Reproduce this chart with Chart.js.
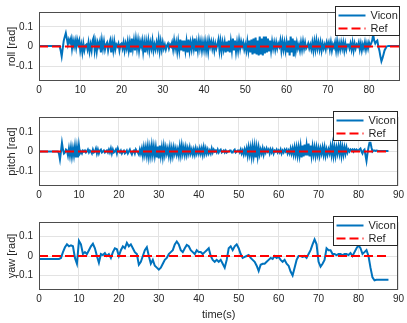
<!DOCTYPE html>
<html>
<head>
<meta charset="utf-8">
<script src="https://cdn.jsdelivr.net/npm/chart.js@4.4.0/dist/chart.umd.min.js"></script>
<style>
  body { margin: 0; background: #fff; }
  canvas { position: absolute; left: 0; }
</style>
</head>
<body>
<canvas id="rollChart" width="407" height="105" style="top:0px"></canvas>
<canvas id="pitchChart" width="407" height="105" style="top:105px"></canvas>
<canvas id="yawChart" width="407" height="113" style="top:210px"></canvas>
<script>
// roll / pitch sampled every 0.25 s, yaw every 0.5 s, from 0 to 87.5 s
const attitudeStep = 0.25;
const yawStep = 0.5;

const roll = [
  0.003,0.003,0.003,0.003,0.003,0.003,0.003,0.003,0.003,0.003,0.003,0.003,0.003,0.003,0.003,0.003,0.003,0.003,0.003,0.003,
  0.003,-0.02,-0.05,-0.01,0.03,0.05,0.068,0.04,0.01,0.035,0.02,0.04,-0.01,0.03,0.0,0.03,-0.005,0.035,0.01,0.03,
  -0.02,0.01,-0.03,0.015,-0.02,0.005,0.01,-0.015,0.02,-0.025,0.01,-0.02,0.03,0.045,-0.02,0.02,-0.025,0.02,0.0,0.025,
  -0.03,0.03,-0.01,0.025,-0.015,0.01,0.02,-0.02,0.01,0.03,-0.03,0.02,-0.02,0.025,-0.015,0.01,0.0,0.015,-0.02,0.01,
  0.015,-0.01,0.02,-0.02,0.015,-0.01,0.025,-0.02,0.02,-0.03,0.04,-0.01,0.03,-0.02,0.035,-0.01,0.03,-0.02,0.025,0.0,
  0.03,-0.025,0.02,-0.03,0.025,-0.01,0.03,-0.02,0.02,-0.01,0.03,-0.02,0.01,-0.015,0.02,-0.01,0.035,-0.02,0.025,-0.015,
  0.02,-0.01,0.01,-0.015,0.005,0.015,-0.01,0.01,0.0,0.02,-0.015,0.03,-0.01,0.02,-0.025,0.025,-0.02,0.035,-0.02,0.03,
  -0.025,0.03,-0.02,0.025,-0.03,0.035,-0.02,0.02,-0.015,0.025,-0.01,0.04,-0.025,0.02,-0.02,0.03,-0.01,0.025,-0.02,0.02,
  -0.015,0.025,-0.02,0.02,-0.025,0.03,0.0,0.025,-0.01,0.02,-0.02,0.015,-0.01,0.01,0.035,-0.02,0.025,-0.025,0.02,-0.015,
  0.02,-0.03,0.025,-0.025,0.03,-0.03,0.025,-0.02,0.04,-0.02,0.03,-0.025,0.02,-0.02,0.03,-0.01,0.025,0.0,0.02,-0.015,
  0.01,-0.02,0.025,-0.02,0.03,-0.03,0.035,-0.04,0.04,-0.035,0.045,-0.04,0.03,-0.045,0.05,-0.04,0.04,-0.045,0.05,-0.035,
  0.05,-0.03,0.04,-0.025,0.03,-0.02,0.025,-0.01,0.02,-0.015,0.02,-0.01,0.015,0.0,0.03,-0.02,0.025,-0.015,0.02,-0.02,
  0.02,-0.03,0.03,-0.045,0.05,-0.03,0.04,-0.05,0.03,-0.02,0.02,-0.01,0.01,-0.02,0.02,-0.015,0.025,-0.01,0.02,-0.01,
  0.0,0.015,-0.01,0.01,-0.015,0.02,-0.02,0.025,-0.015,0.03,-0.01,0.02,-0.015,0.02,-0.02,0.015,-0.01,0.01,-0.015,0.02,
  0.0,0.02,-0.015,0.02,-0.02,0.01,-0.005,0.02,-0.02,0.025,-0.02,0.015,-0.015,0.02,-0.01,0.02,-0.02,0.015,-0.015,0.01,
  0.01,-0.01,0.015,-0.015,0.02,-0.02,0.015,-0.01,0.01,0.0,0.02,-0.015,0.015,-0.02,0.01,-0.01,0.02,-0.015,0.015,-0.01,
  0.02,0.005,0.015,0.03,0.06,0.03,0.015,0.025,0.03,0.0,-0.02,-0.05,-0.075,-0.06,-0.04,-0.02,-0.01,0.0,0.002,0.003,
  0.003,0.003,0.003,0.003,0.003,0.003,0.003,0.003,0.003,0.003,0.003
];

const pitch = [
  0.0,0.0,0.0,0.0,0.0,0.0,0.0,0.0,0.0,0.0,0.0,0.0,0.0,0.0,0.0,0.0,0.0,0.0,0.0,0.0,
  -0.01,-0.04,0.0,0.044,0.01,-0.01,-0.005,0.01,0.005,-0.02,0.015,-0.02,0.02,-0.025,0.015,-0.02,0.025,-0.03,0.02,-0.03,
  0.03,-0.01,0.0,-0.01,0.005,0.0,0.005,-0.005,0.0,0.01,-0.005,0.005,0.0,-0.01,0.01,-0.005,0.0,0.015,-0.01,0.01,
  -0.01,0.005,0.01,-0.005,0.0,0.005,-0.005,0.0,0.005,-0.005,0.01,-0.005,0.015,-0.01,0.01,-0.005,0.0,0.01,-0.01,0.015,
  0.0,-0.005,0.005,-0.01,0.0,0.005,-0.01,-0.005,0.005,-0.01,0.0,0.01,-0.005,-0.015,0.0,0.005,-0.01,0.01,0.0,-0.005,
  -0.015,0.01,-0.01,0.015,-0.02,0.02,-0.015,0.02,-0.02,0.025,-0.025,0.02,-0.02,0.03,-0.015,0.025,-0.02,0.02,-0.03,0.025,
  -0.035,0.03,-0.02,0.02,-0.025,0.025,-0.015,0.02,-0.01,0.015,-0.02,0.02,-0.025,0.015,-0.02,0.02,-0.01,0.015,-0.015,0.01,
  -0.02,0.025,-0.015,0.03,-0.01,0.02,-0.015,0.02,-0.015,0.015,-0.01,0.02,-0.01,0.01,-0.015,0.01,-0.015,0.015,-0.01,0.01,
  -0.01,0.015,-0.01,0.015,-0.015,0.02,-0.01,0.015,-0.01,0.01,-0.01,0.005,-0.01,0.015,-0.005,0.01,0.0,0.005,-0.005,0.01,
  -0.005,0.005,0.01,-0.005,0.0,0.005,-0.005,0.005,-0.005,0.0,0.0,0.005,0.005,-0.005,-0.005,0.005,0.01,-0.005,0.0,0.005,
  0.005,-0.005,0.01,-0.01,0.005,-0.015,0.01,-0.01,0.015,-0.02,0.02,-0.015,0.02,-0.025,0.025,-0.02,0.025,-0.03,0.02,-0.025,
  0.02,-0.015,0.01,-0.01,0.015,-0.015,0.01,-0.005,0.015,0.0,0.01,-0.01,0.01,-0.005,0.01,-0.01,0.005,0.0,0.01,-0.005,
  0.005,-0.005,0.01,-0.01,0.005,-0.005,0.01,0.0,0.01,-0.01,0.005,-0.01,0.015,-0.01,0.015,-0.015,0.02,-0.015,0.02,-0.02,
  0.02,-0.02,0.025,-0.03,0.03,-0.025,0.035,-0.02,0.03,-0.02,0.04,-0.025,0.03,-0.02,0.025,-0.015,0.02,-0.02,0.02,-0.015,
  0.015,-0.02,0.015,-0.01,0.02,-0.015,0.02,-0.02,0.01,-0.015,0.01,-0.01,0.025,-0.015,0.03,-0.02,0.02,-0.02,0.02,-0.01,
  0.025,-0.01,0.03,-0.02,0.02,-0.015,0.02,-0.01,0.02,-0.005,0.01,0.0,0.01,0.005,0.01,0.0,0.01,0.005,0.01,0.005,
  0.005,0.01,0.015,0.0,-0.01,0.005,0.01,-0.02,-0.048,-0.01,0.02,0.045,0.045,0.02,0.0,0.005,0.005,0.003,0.005,0.004,
  0.003,0.003,0.003,0.003,0.003,0.002,0.002,0.002,0.002,0.002,0.002
];

const yaw = [
  -0.015,-0.015,-0.015,-0.015,-0.015,-0.015,-0.015,-0.015,-0.015,-0.015,
  -0.015,-0.01,0.02,0.045,0.06,0.05,0.055,0.05,-0.01,-0.04,
  0.078,0.06,0.01,0.02,0.01,0.03,0.05,0.063,0.04,0.0,
  -0.035,0.01,0.005,0.015,0.0,0.01,-0.01,0.02,0.04,0.035,
  0.0,0.03,0.05,0.04,0.068,0.05,0.06,0.04,0.02,0.01,
  -0.045,-0.03,0.0,0.03,0.045,0.0,-0.04,-0.02,-0.05,-0.06,
  -0.07,-0.06,-0.04,-0.02,-0.01,0.01,0.02,0.03,0.06,0.075,
  0.06,0.03,0.02,0.04,0.057,0.05,0.03,0.02,0.01,0.03,
  0.02,0.02,0.01,0.02,0.03,0.04,0.0,-0.02,-0.03,-0.02,
  -0.03,-0.02,-0.04,-0.06,-0.02,0.04,0.05,0.03,0.05,0.06,
  0.04,0.01,-0.01,-0.005,0.0,0.005,-0.01,-0.02,-0.03,-0.05,
  -0.077,-0.045,-0.04,-0.04,-0.03,-0.02,-0.01,-0.015,0.0,-0.01,
  -0.005,-0.02,-0.03,-0.02,-0.04,-0.05,-0.08,-0.1,-0.06,-0.02,
  0.0,0.0,-0.005,0.0,-0.01,0.01,0.03,0.06,0.085,0.06,
  -0.03,-0.055,-0.04,-0.02,0.04,0.03,0.03,0.01,0.01,0.005,
  0.01,0.01,0.005,0.01,0.01,0.005,0.015,0.0,0.02,0.04,
  0.055,0.04,0.01,0.02,0.03,0.0,-0.06,-0.11,-0.125,-0.122,
  -0.122,-0.122,-0.122,-0.122,-0.122,-0.122
];

const refTime = [0, 87.5];
const refValue = [0, 0];

const yTicks = [-0.1, 0, 0.1];
const xTicksRoll = [0, 10, 20, 30, 40, 50, 60, 70, 80];
const xTicksFull = [0, 10, 20, 30, 40, 50, 60, 70, 80, 90];

const ink = '#262626';
const gridColor = '#e3e3e3';
const font = { family: '"Liberation Sans", Arial, sans-serif', size: 10 };
const titleFont = { family: '"Liberation Sans", Arial, sans-serif', size: 11 };

// box around the plot area and a MATLAB-like legend in the upper right
const boxLegend = {
  id: 'boxLegend',
  afterDatasetsDraw(chart) {
    const ctx = chart.ctx;
    const a = chart.chartArea;
    ctx.save();
    ctx.strokeStyle = '#4d4d4d';
    ctx.lineWidth = 1;
    ctx.strokeRect(Math.round(a.left) + 0.5, Math.round(a.top) + 0.5,
      Math.round(a.right - a.left) - 1, Math.round(a.bottom - a.top) - 1);

    const x0 = Math.round(a.right) - 65 + 0.5;
    const y0 = Math.round(a.top) - 6 + 0.5;
    ctx.fillStyle = '#fff';
    ctx.fillRect(x0, y0, 64, 29);
    ctx.strokeStyle = ink;
    ctx.strokeRect(x0, y0, 64, 29);

    const items = chart.data.datasets.slice().sort((p, q) => q.order - p.order);
    items.forEach((ds, i) => {
      const y = y0 + 9 + i * 13;
      ctx.strokeStyle = ds.borderColor;
      ctx.lineWidth = ds.borderWidth;
      ctx.setLineDash(ds.borderDash || []);
      ctx.beginPath();
      ctx.moveTo(x0 + 3, y);
      ctx.lineTo(x0 + 30, y);
      ctx.stroke();
      ctx.setLineDash([]);
      ctx.fillStyle = ink;
      ctx.font = '11px "Liberation Sans", Arial, sans-serif';
      ctx.textBaseline = 'middle';
      ctx.textAlign = 'left';
      ctx.fillText(ds.label, x0 + 35, y);
    });
    ctx.restore();
  }
};

function makeChart(id, yLabel, values, step, xMax, xTicks, xTitle, xHeight) {
  return new Chart(document.getElementById(id), {
    type: 'line',
    data: {
      datasets: [{
        label: 'Vicon',
        data: values.map((v, i) => ({ x: i * step, y: v })),
        borderColor: '#0072BD',
        borderWidth: 2,
        pointRadius: 0,
        order: 2
      }, {
        label: 'Ref',
        data: refTime.map((t, i) => ({ x: t, y: refValue[i] })),
        borderColor: '#FF0000',
        borderWidth: 2,
        borderDash: [9, 4],
        pointRadius: 0,
        order: 1
      }]
    },
    options: {
      responsive: false,
      animation: false,
      devicePixelRatio: 1,
      layout: { padding: { top: 6, right: 7, left: 0, bottom: 0 } },
      plugins: { legend: { display: false }, tooltip: { enabled: false } },
      scales: {
        x: {
          type: 'linear',
          min: 0,
          max: xMax,
          afterBuildTicks: s => { s.ticks = xTicks.map(v => ({ value: v })); },
          afterFit: s => { s.height = xHeight; },
          grid: { color: gridColor, drawTicks: false },
          border: { display: false },
          ticks: { padding: 3, font: font, color: ink, maxRotation: 0, autoSkip: false,
                   callback: v => String(v) },
          title: { display: !!xTitle, text: xTitle, font: titleFont, color: ink,
                   padding: { top: 0, bottom: 1 } }
        },
        y: {
          min: -0.175,
          max: 0.175,
          afterBuildTicks: s => { s.ticks = yTicks.map(v => ({ value: v })); },
          afterFit: s => { s.width = 39; },
          grid: { color: gridColor, drawTicks: false },
          border: { display: false },
          ticks: { padding: 6, font: font, color: ink, callback: v => String(v) },
          title: { display: true, text: yLabel, font: titleFont, color: ink,
                   padding: { top: 5, bottom: 0 } }
        }
      }
    },
    plugins: [boxLegend]
  });
}

makeChart('rollChart', 'roll [rad]', roll, attitudeStep, 87.5, xTicksRoll, '', 24);
makeChart('pitchChart', 'pitch [rad]', pitch, attitudeStep, 90, xTicksFull, '', 24);
makeChart('yawChart', 'yaw [rad]', yaw, yawStep, 90, xTicksFull, 'time(s)', 33);
</script>
</body>
</html>
